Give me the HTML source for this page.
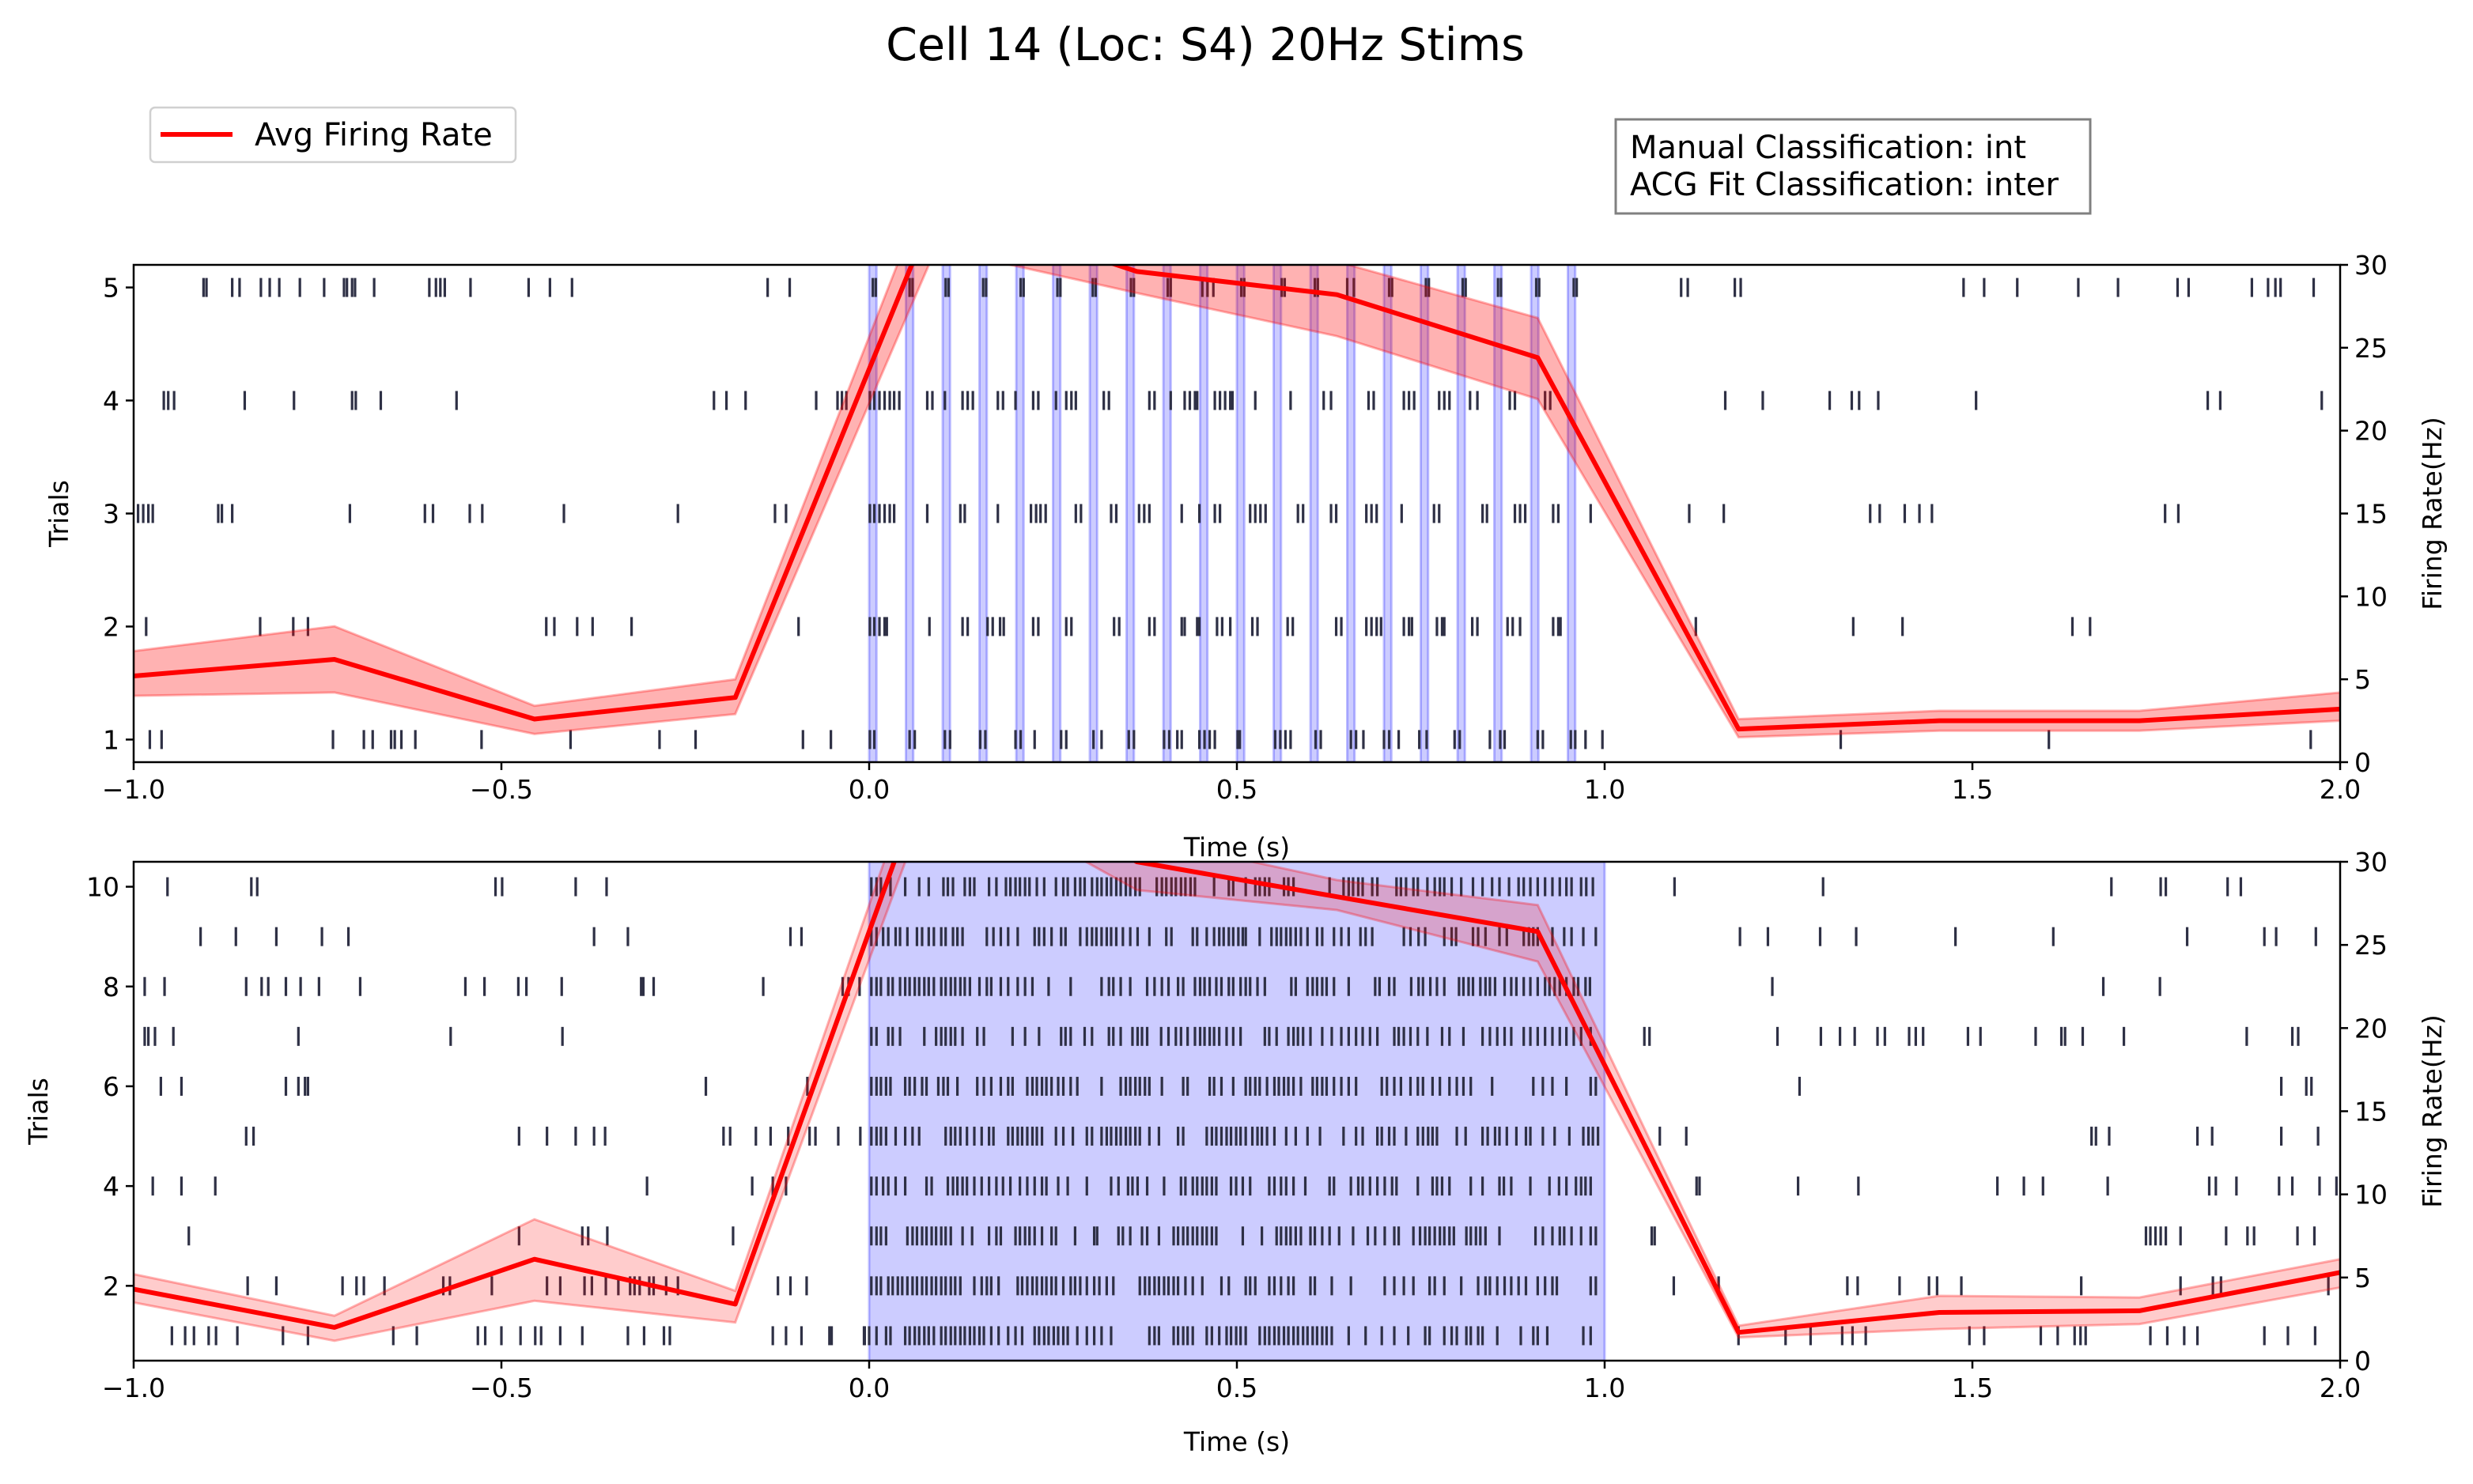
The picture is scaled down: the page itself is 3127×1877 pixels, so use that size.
<!DOCTYPE html>
<html><head><meta charset="utf-8">
<style>
html,body{margin:0;padding:0;background:#fff;}
svg{display:block;font-family:"DejaVu Sans","Liberation Sans",sans-serif;}
</style></head>
<body>
<svg id="fig" width="3127" height="1877" viewBox="0 0 3127 1877" xmlns="http://www.w3.org/2000/svg">
<rect width="3127" height="1877" fill="#fff"/>
<text x="1524" y="76" font-size="57" text-anchor="middle">Cell 14 (Loc: S4) 20Hz Stims</text>
<g>
<rect x="190" y="136" width="462" height="69" rx="6" fill="#fff" stroke="#d0d0d0" stroke-width="2.5"/>
<line x1="203" y1="170" x2="294" y2="170" stroke="#ff0000" stroke-width="6"/>
<text x="322" y="184" font-size="40">Avg Firing Rate</text>
</g>
<g>
<rect x="2043" y="151" width="600" height="119" fill="#fff" stroke="#808080" stroke-width="3"/>
<text x="2061" y="200" font-size="40">Manual Classification: int</text>
<text x="2061" y="247" font-size="40">ACG Fit Classification: inter</text>
</g>
<g id="top"></g>
<g id="bot"></g>
</svg>
<script>
// ---------- data ----------
const rateTimes = [-1, -0.727, -0.455, -0.182, 0.091, 0.364, 0.636, 0.909, 1.182, 1.455, 1.727, 2.0];
const topRate  = [5.2, 6.2, 2.6, 3.9, 33.6, 29.6, 28.2, 24.4, 2.0, 2.5, 2.5, 3.2];
const topLower = [4.0, 4.2, 1.7, 2.9, 31.0, 28.3, 25.7, 21.9, 1.5, 1.9, 1.9, 2.5];
const topUpper = [6.7, 8.2, 3.4, 5.0, 36.0, 31.0, 30.2, 26.8, 2.6, 3.1, 3.1, 4.2];
const botRate  = [4.3, 2.0, 6.1, 3.4, 37.0, 30.0, 27.9, 25.8, 1.7, 2.9, 3.0, 5.3];
const botLower = [3.5, 1.2, 3.6, 2.3, 35.0, 28.3, 27.1, 24.0, 1.4, 1.9, 2.2, 4.4];
const botUpper = [5.2, 2.7, 8.5, 4.2, 39.0, 31.5, 28.9, 27.4, 2.1, 3.9, 3.8, 6.1];
const xTicks = [-1.0, -0.5, 0.0, 0.5, 1.0, 1.5, 2.0];
const xTickLabels = ["\u22121.0", "\u22120.5", "0.0", "0.5", "1.0", "1.5", "2.0"];
const rateTicks = [0, 5, 10, 15, 20, 25, 30];
const topTrialTicks = [1, 2, 3, 4, 5];
const botTrialTicks = [2, 4, 6, 8, 10];
const pulseTimes = [0,0.05,0.1,0.15,0.2,0.25,0.3,0.35,0.4,0.45,0.5,0.55,0.6,0.65,0.7,0.75,0.8,0.85,0.9,0.95];

const topPre = [
 [-0.978,-0.962,-0.729,-0.687,-0.675,-0.650,-0.645,-0.636,-0.617,-0.527,-0.406,-0.285,-0.236,-0.090,-0.052],
 [-0.983,-0.828,-0.783,-0.763,-0.439,-0.428,-0.397,-0.376,-0.323,-0.096],
 [-0.994,-0.987,-0.980,-0.974,-0.885,-0.880,-0.866,-0.706,-0.604,-0.593,-0.543,-0.526,-0.415,-0.260,-0.128,-0.113],
 [-0.959,-0.953,-0.945,-0.849,-0.782,-0.703,-0.698,-0.664,-0.561,-0.211,-0.194,-0.168,-0.072,-0.043,-0.037,-0.031],
 [-0.905,-0.901,-0.866,-0.856,-0.827,-0.815,-0.802,-0.774,-0.741,-0.714,-0.710,-0.703,-0.699,-0.673,-0.598,-0.589,-0.583,-0.577,-0.542,-0.463,-0.434,-0.404,-0.138,-0.108]
];
const topStimMs = [
 [1,7,55,62,103,110,151,158,199,206,225,261,268,305,316,353,360,401,408,419,425,449,456,463,470,501,504,552,559,566,573,607,614,655,662,672,700,707,720,748,758,796,803,844,858,864,909,916,954,960,974,997],
 [1,7,14,21,24,82,127,134,161,168,178,183,223,230,268,275,333,340,381,388,425,429,446,449,473,480,491,521,528,569,576,635,642,676,683,690,696,727,734,738,772,779,782,820,827,868,875,885,930,937,940],
 [1,7,14,21,28,34,79,124,130,175,220,227,233,240,281,288,329,336,367,374,381,425,449,470,477,518,525,532,539,583,590,628,635,676,683,690,724,768,775,834,840,878,885,892,930,937,981],
 [1,7,14,21,28,34,41,79,86,103,127,134,141,175,182,199,223,230,254,268,275,281,319,326,381,388,410,429,436,443,446,470,477,484,491,494,525,573,618,628,679,686,727,734,741,775,782,789,817,827,871,878,919,926],
 [5,9,55,59,104,108,155,159,206,210,256,260,304,308,356,360,406,410,453,460,468,506,510,561,565,606,610,650,659,707,711,757,761,807,811,855,859,907,911,958,962]
];
const topPost = [
 [1.321,1.604,1.960],
 [1.124,1.338,1.405,1.636,1.660],
 [1.115,1.162,1.361,1.374,1.408,1.428,1.445,1.762,1.780],
 [1.164,1.215,1.306,1.336,1.346,1.372,1.505,1.820,1.837,1.975],
 [1.104,1.113,1.177,1.185,1.488,1.516,1.561,1.644,1.698,1.779,1.794,1.880,1.902,1.912,1.919,1.964]
];

const botPre = [
 [-0.948,-0.930,-0.918,-0.898,-0.888,-0.859,-0.797,-0.763,-0.647,-0.615,-0.532,-0.522,-0.500,-0.474,-0.454,-0.446,-0.420,-0.390,-0.328,-0.306,-0.279,-0.271,-0.131,-0.113,-0.092,-0.054,-0.051,-0.006],
 [-0.845,-0.806,-0.716,-0.697,-0.687,-0.659,-0.579,-0.570,-0.513,-0.438,-0.420,-0.387,-0.377,-0.358,-0.341,-0.325,-0.319,-0.312,-0.299,-0.293,-0.276,-0.260,-0.124,-0.107,-0.085],
 [-0.925,-0.476,-0.390,-0.382,-0.356,-0.185],
 [-0.974,-0.935,-0.889,-0.302,-0.159,-0.131,-0.113],
 [-0.847,-0.837,-0.476,-0.438,-0.399,-0.374,-0.359,-0.198,-0.189,-0.154,-0.134,-0.110,-0.081,-0.073,-0.042,-0.012],
 [-0.963,-0.935,-0.793,-0.776,-0.767,-0.763,-0.222,-0.084],
 [-0.985,-0.980,-0.971,-0.946,-0.776,-0.569,-0.417],
 [-0.985,-0.958,-0.847,-0.826,-0.817,-0.793,-0.773,-0.748,-0.692,-0.549,-0.523,-0.477,-0.466,-0.418,-0.310,-0.307,-0.293,-0.144,-0.036,-0.028,-0.013],
 [-0.909,-0.861,-0.806,-0.744,-0.708,-0.374,-0.328,-0.107,-0.092],
 [-0.954,-0.840,-0.832,-0.508,-0.499,-0.399,-0.357]
];
const botStimMs = [
 [-7,0,10,23,29,49,55,62,68,75,81,88,98,104,111,117,124,130,137,143,150,156,166,176,189,199,208,225,231,238,244,251,257,264,270,283,296,306,316,329,381,388,394,414,420,427,433,440,459,466,476,486,492,499,505,512,531,538,544,551,557,564,570,577,583,590,596,603,609,616,622,629,652,675,697,714,733,756,762,782,792,799,812,818,828,834,854,886,903,909,922,971,981],
 [3,10,16,26,32,39,45,52,59,65,72,78,85,91,98,104,111,117,124,143,153,160,166,176,202,208,215,222,228,235,241,248,254,264,274,280,287,296,306,313,323,332,368,375,381,388,394,401,407,414,420,430,440,453,479,489,512,518,525,544,551,560,570,577,600,606,629,655,701,714,727,740,762,769,782,805,828,838,844,854,864,873,883,893,909,919,929,935,981,988],
 [3,10,16,23,52,59,65,72,78,85,91,98,104,111,127,140,163,173,179,199,205,212,218,225,235,248,254,280,306,310,339,345,355,371,378,394,414,420,427,433,440,446,453,459,466,472,508,534,554,560,567,573,580,587,600,606,616,626,639,658,678,688,701,714,720,740,749,756,762,769,776,782,789,795,812,818,825,831,838,857,906,916,929,939,945,955,968,981,988],
 [3,10,19,26,36,49,78,85,107,114,120,127,133,143,153,163,173,182,192,205,215,225,235,241,257,270,296,329,339,352,358,365,378,401,424,430,440,446,453,459,466,472,492,499,508,518,544,551,560,567,577,593,626,632,655,665,671,681,691,701,711,717,746,766,772,779,789,818,834,857,863,873,899,925,938,948,961,968,974,981],
 [3,10,16,23,36,49,59,68,104,111,117,124,133,143,153,163,169,189,195,202,208,215,222,228,235,254,264,277,296,303,316,323,329,336,342,349,355,362,368,381,394,420,427,459,466,472,479,486,492,499,505,512,521,528,534,541,551,567,580,596,613,645,662,671,691,697,707,714,730,746,753,760,766,772,799,811,834,841,851,857,867,880,893,899,916,932,952,971,978,984,991],
 [3,10,16,23,29,49,55,62,72,78,94,101,107,120,147,156,166,179,189,195,215,222,228,235,241,248,257,264,274,283,316,342,349,355,362,368,375,381,398,427,433,463,469,479,495,512,518,525,531,541,551,557,564,570,577,587,603,609,616,622,632,642,652,662,697,704,714,723,736,746,753,766,776,789,799,808,818,847,903,916,929,948,981,988],
 [3,10,26,32,42,75,91,98,104,111,117,127,147,156,195,212,231,261,267,274,293,303,326,332,342,358,365,371,378,397,407,417,424,433,443,450,456,463,469,476,486,495,505,538,544,554,570,577,583,590,600,616,629,642,652,662,671,681,691,714,720,727,736,746,759,779,789,808,834,844,854,864,873,890,899,909,919,929,939,948,958,968,981],
 [3,10,16,26,32,42,49,55,62,68,75,81,88,98,104,111,117,124,130,137,150,160,166,179,189,202,212,222,244,274,316,326,332,342,355,378,388,398,407,420,427,443,450,456,463,472,479,489,495,505,512,518,528,538,574,580,596,603,609,616,622,632,652,688,694,707,714,737,747,753,763,772,782,802,808,815,821,831,838,844,851,864,873,880,890,899,909,919,925,932,939,948,958,964,974,980],
 [3,10,19,26,36,42,52,65,72,81,88,98,104,114,120,127,160,169,179,189,202,225,231,238,248,261,267,287,296,303,309,316,323,329,336,345,355,365,381,404,411,440,446,459,469,476,482,489,495,502,508,512,531,547,554,560,567,573,580,587,596,609,616,632,642,652,668,675,684,727,736,747,756,782,792,798,821,828,838,857,867,890,897,903,909,929,945,955,971,988],
 [3,10,16,29,49,68,81,101,107,114,130,137,143,163,173,186,192,199,205,212,218,228,238,254,264,270,280,287,293,303,310,316,323,329,336,342,349,355,362,368,391,398,404,411,417,424,430,437,443,469,489,495,512,525,531,538,544,564,570,577,626,645,652,658,665,671,684,691,717,723,730,740,746,759,769,776,782,792,805,821,834,847,857,870,883,890,899,909,919,929,939,948,955,968,975,984]
];
const botPost = [
 [1.182,1.246,1.280,1.323,1.337,1.355,1.496,1.516,1.593,1.616,1.639,1.647,1.654,1.742,1.765,1.788,1.806,1.897,1.929,1.966],
 [1.094,1.155,1.330,1.344,1.401,1.441,1.452,1.485,1.648,1.783,1.827,1.838,1.984],
 [1.064,1.068,1.736,1.742,1.749,1.756,1.763,1.783,1.845,1.874,1.883,1.942,1.965],
 [1.125,1.129,1.263,1.345,1.534,1.570,1.596,1.684,1.822,1.831,1.859,1.917,1.935,1.972,1.995],
 [1.075,1.111,1.662,1.668,1.686,1.806,1.826,1.920,1.970],
 [1.265,1.920,1.954,1.961],
 [1.054,1.061,1.235,1.294,1.320,1.340,1.371,1.381,1.414,1.423,1.433,1.494,1.511,1.586,1.621,1.626,1.650,1.706,1.873,1.935,1.943],
 [1.228,1.678,1.755],
 [1.184,1.222,1.293,1.342,1.477,1.610,1.792,1.897,1.913,1.967],
 [1.095,1.297,1.689,1.756,1.763,1.847,1.865]
];

// ---------- drawing ----------
const NS = "http://www.w3.org/2000/svg";
const FS = 33;
function mk(parent, tag, attrs, txt) {
  const e = document.createElementNS(NS, tag);
  for (const k in attrs) e.setAttribute(k, attrs[k]);
  if (txt !== undefined) e.textContent = txt;
  parent.appendChild(e);
  return e;
}
const X0 = 169, X1 = 2959;
function xs(t) { return X0 + (t + 1) / 3 * (X1 - X0); }

function panel(g, id, yTop, yBot, tMin, tMax, trialTicks, pre, stimMs, post, rate, lo, hi, stimMode, xTitleY, yTitleX) {
  const ys = v => yBot - (v - tMin) / (tMax - tMin) * (yBot - yTop);
  const rs = v => yBot - v / 30 * (yBot - yTop);
  const clip = mk(g, "clipPath", { id: "clip-" + id });
  mk(clip, "rect", { x: X0, y: yTop, width: X1 - X0, height: yBot - yTop });
  const sg = mk(g, "g", { "clip-path": "url(#clip-" + id + ")" });
  if (stimMode === "pulses") {
    pulseTimes.forEach(p => {
      const r = mk(sg, "rect", { x: xs(p), y: yTop, width: xs(p + 0.01) - xs(p), height: yBot - yTop, fill: "rgba(0,0,255,0.2)", stroke: "rgba(0,0,255,0.25)", "stroke-width": 3 });
      
      
    });
  } else {
    const r = mk(sg, "rect", { x: xs(0), y: yTop, width: xs(1) - xs(0), height: yBot - yTop, fill: "rgba(0,0,255,0.2)", stroke: "rgba(0,0,255,0.25)", "stroke-width": 3 });
    
    
  }
  const sp = mk(g, "g", { stroke: "#2e3045", "stroke-width": 3.2 });
  
  
  for (let i = 0; i < pre.length; i++) {
    const y = ys(i + 1);
    const all = pre[i].concat(stimMs[i].map(m => m / 1000), post[i]);
    all.forEach(t => {
      if (t < -1 || t > 2) return;
      const l = mk(sp, "line", { x1: xs(t), x2: xs(t), y1: y - 12, y2: y + 12 });
      
      
    });
  }
  const rg = mk(g, "g", { "clip-path": "url(#clip-" + id + ")" });
  let d = "";
  rateTimes.forEach((t, i) => d += (i ? "L" : "M") + xs(t).toFixed(1) + "," + rs(hi[i]).toFixed(1));
  for (let i = rateTimes.length - 1; i >= 0; i--) d += "L" + xs(rateTimes[i]).toFixed(1) + "," + rs(lo[i]).toFixed(1);
  d += "Z";
  const band = mk(rg, "path", { d: d, fill: id === "top" ? "rgba(255,0,0,0.3)" : "rgba(255,0,0,0.2)", stroke: "rgba(255,0,0,0.3)", "stroke-width": 3 });
  
  
  const pts = rateTimes.map((t, i) => xs(t).toFixed(1) + "," + rs(rate[i]).toFixed(1)).join(" ");
  const pl = mk(rg, "polyline", { points: pts, fill: "none", stroke: "#ff0000", "stroke-width": 6, "stroke-linejoin": "round" });
  
  
  const fr = mk(g, "rect", { x: X0, y: yTop, width: X1 - X0, height: yBot - yTop, fill: "none", stroke: "#000", "stroke-width": 2.5 });
  
  
  xTicks.forEach((t, i) => {
    mk(g, "line", { x1: xs(t), x2: xs(t), y1: yBot, y2: yBot + 10, stroke: "#000", "stroke-width": 2.5 });
    const tx = mk(g, "text", { x: xs(t), y: yBot + 46, "font-size": FS, "text-anchor": "middle" }, xTickLabels[i]);
    
    
  });
  const xl = mk(g, "text", { x: 1564, y: xTitleY, "font-size": FS, "text-anchor": "middle" }, "Time (s)");
  
  
  trialTicks.forEach(v => {
    mk(g, "line", { x1: X0 - 10, x2: X0, y1: ys(v), y2: ys(v), stroke: "#000", "stroke-width": 2.5 });
    const tx = mk(g, "text", { x: X0 - 18, y: ys(v) + 12, "font-size": FS, "text-anchor": "end" }, String(v));
    
    
  });
  const yl = mk(g, "text", { x: 0, y: 0, "font-size": FS, "text-anchor": "middle", transform: "translate(" + yTitleX + "," + ((yTop + yBot) / 2) + ") rotate(-90)" }, "Trials");
  
  
  rateTicks.forEach(v => {
    mk(g, "line", { x1: X1, x2: X1 + 10, y1: rs(v), y2: rs(v), stroke: "#000", "stroke-width": 2.5 });
    const tx = mk(g, "text", { x: X1 + 18, y: rs(v) + 12, "font-size": FS }, String(v));
    
    
  });
  const rl = mk(g, "text", { x: 0, y: 0, "font-size": FS, "text-anchor": "middle", transform: "translate(3087," + ((yTop + yBot) / 2) + ") rotate(-90)" }, "Firing Rate(Hz)");
  
  
}
panel(document.getElementById("top"), "top", 335, 964, 0.8, 5.2, topTrialTicks, topPre, topStimMs, topPost, topRate, topLower, topUpper, "pulses", 1083, 86);
panel(document.getElementById("bot"), "bot", 1090, 1721, 0.5, 10.5, botTrialTicks, botPre, botStimMs, botPost, botRate, botLower, botUpper, "block", 1835, 60);
</script>
</body></html>
